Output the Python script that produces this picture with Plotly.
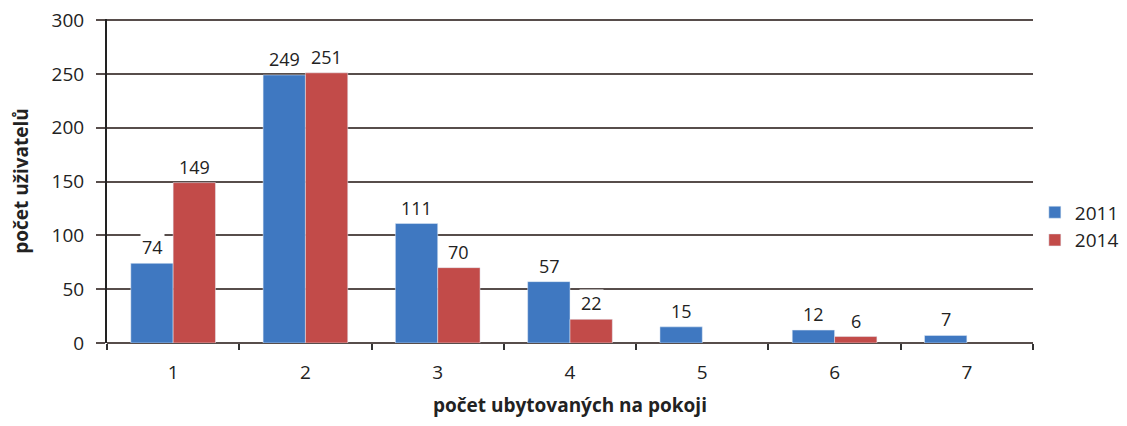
import plotly.graph_objects as go

# ---- Data ----
categories = ["1", "2", "3", "4", "5", "6", "7"]
users_2011 = [74, 249, 111, 57, 15, 12, 7]
users_2014 = [149, 251, 70, 22, None, 6, None]

blue = "#3f78c1"
red = "#c24b49"
grid = "#574d4b"
font = "Open Sans"

fig = go.Figure()
fig.add_trace(go.Bar(x=categories, y=users_2011, name="2011", marker_color=blue))
fig.add_trace(go.Bar(x=categories, y=users_2014, name="2014", marker_color=red))

# ---- Value labels in white boxes (x given as category index) ----
for series, shift in [(users_2011, -21), (users_2014, 21)]:
    for i, val in enumerate(series):
        if val is None:
            continue
        fig.add_annotation(
            x=i, y=val, xshift=shift, yshift=2,
            text=str(val), showarrow=False,
            yanchor="bottom", bgcolor="white",
            font=dict(family=font, size=18, color="#222"),
            borderpad=1,
        )

# page body adds an 8px offset, so the figure is 8px smaller
fig.update_layout(
    width=1119, height=418,
    margin=dict(l=99, r=94, t=11, b=83, autoexpand=False),
    plot_bgcolor="white", paper_bgcolor="white",
    barmode="group", bargap=0.36, bargroupgap=0,
    font=dict(family=font, size=19, color="#222"),
    legend=dict(x=1.002, y=0.36, xanchor="left", yanchor="middle",
                font=dict(size=19), itemwidth=30),
)

fig.update_xaxes(
    type="category", showline=False, showgrid=False, automargin=False,
    ticks="outside", tickson="boundaries", ticklen=6, tickwidth=2, tickcolor="#333",
    ticklabelstandoff=16,
    title=dict(text="<b>počet ubytovaných na pokoji</b>", standoff=14,
               font=dict(size=19)),
)
fig.update_yaxes(
    range=[0, 301], tickvals=[0, 50, 100, 150, 200, 250, 300], automargin=False,
    ticklabeloverflow="allow",
    showgrid=True, gridcolor=grid, gridwidth=2,
    zeroline=True, zerolinecolor=grid, zerolinewidth=2,
    showline=True, linecolor="#222", linewidth=2,
    ticks="outside", ticklen=9, tickwidth=2, tickcolor=grid,
    ticklabelstandoff=8,
    title=dict(text="<b>počet uživatelů</b>", standoff=24,
               font=dict(size=19)),
)

fig.write_html("out.html")
